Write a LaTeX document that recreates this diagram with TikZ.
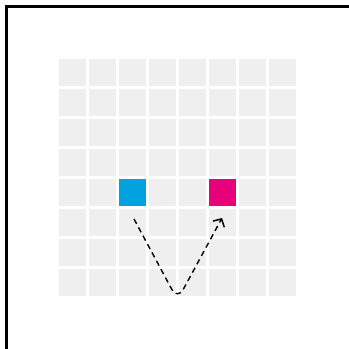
\documentclass[tikz,border=0pt]{standalone}
\usetikzlibrary{arrows.meta}
\definecolor{cellgray}{HTML}{EFEFEF}
\definecolor{cyanc}{HTML}{00A3E0}
\definecolor{magc}{HTML}{E6007A}
\begin{document}
\begin{tikzpicture}[x=1pt,y=-1pt,
  cell/.style={fill=cellgray, draw=none},
  pathline/.style={line width=1.4pt, dash pattern=on 5.5pt off 4pt, rounded corners=12pt}]
\useasboundingbox (0,0) rectangle (349,349);
\clip (0,0) rectangle (349,349);
\fill[white] (0,0) rectangle (349,349);
\draw[line width=2.4pt] (6.3,6.3) rectangle (350,380);
\foreach \i in {0,...,7}{
  \foreach \j in {0,...,7}{
    \fill[cellgray] ({59+30*\i},{59+30*\j}) rectangle ++(27,27);
  }
}
\fill[cyanc] (119,179) rectangle ++(27,27);
\fill[magc] (209,179) rectangle ++(27,27);
\coordinate (s) at (134,219);
\coordinate (b) at (177.5,300);
\coordinate (e) at (222,218);
\draw[pathline, -{Straight Barb[length=6pt,width=13pt,line width=1.5pt]}] (s) -- (b) -- (e);
\end{tikzpicture}
\end{document}
